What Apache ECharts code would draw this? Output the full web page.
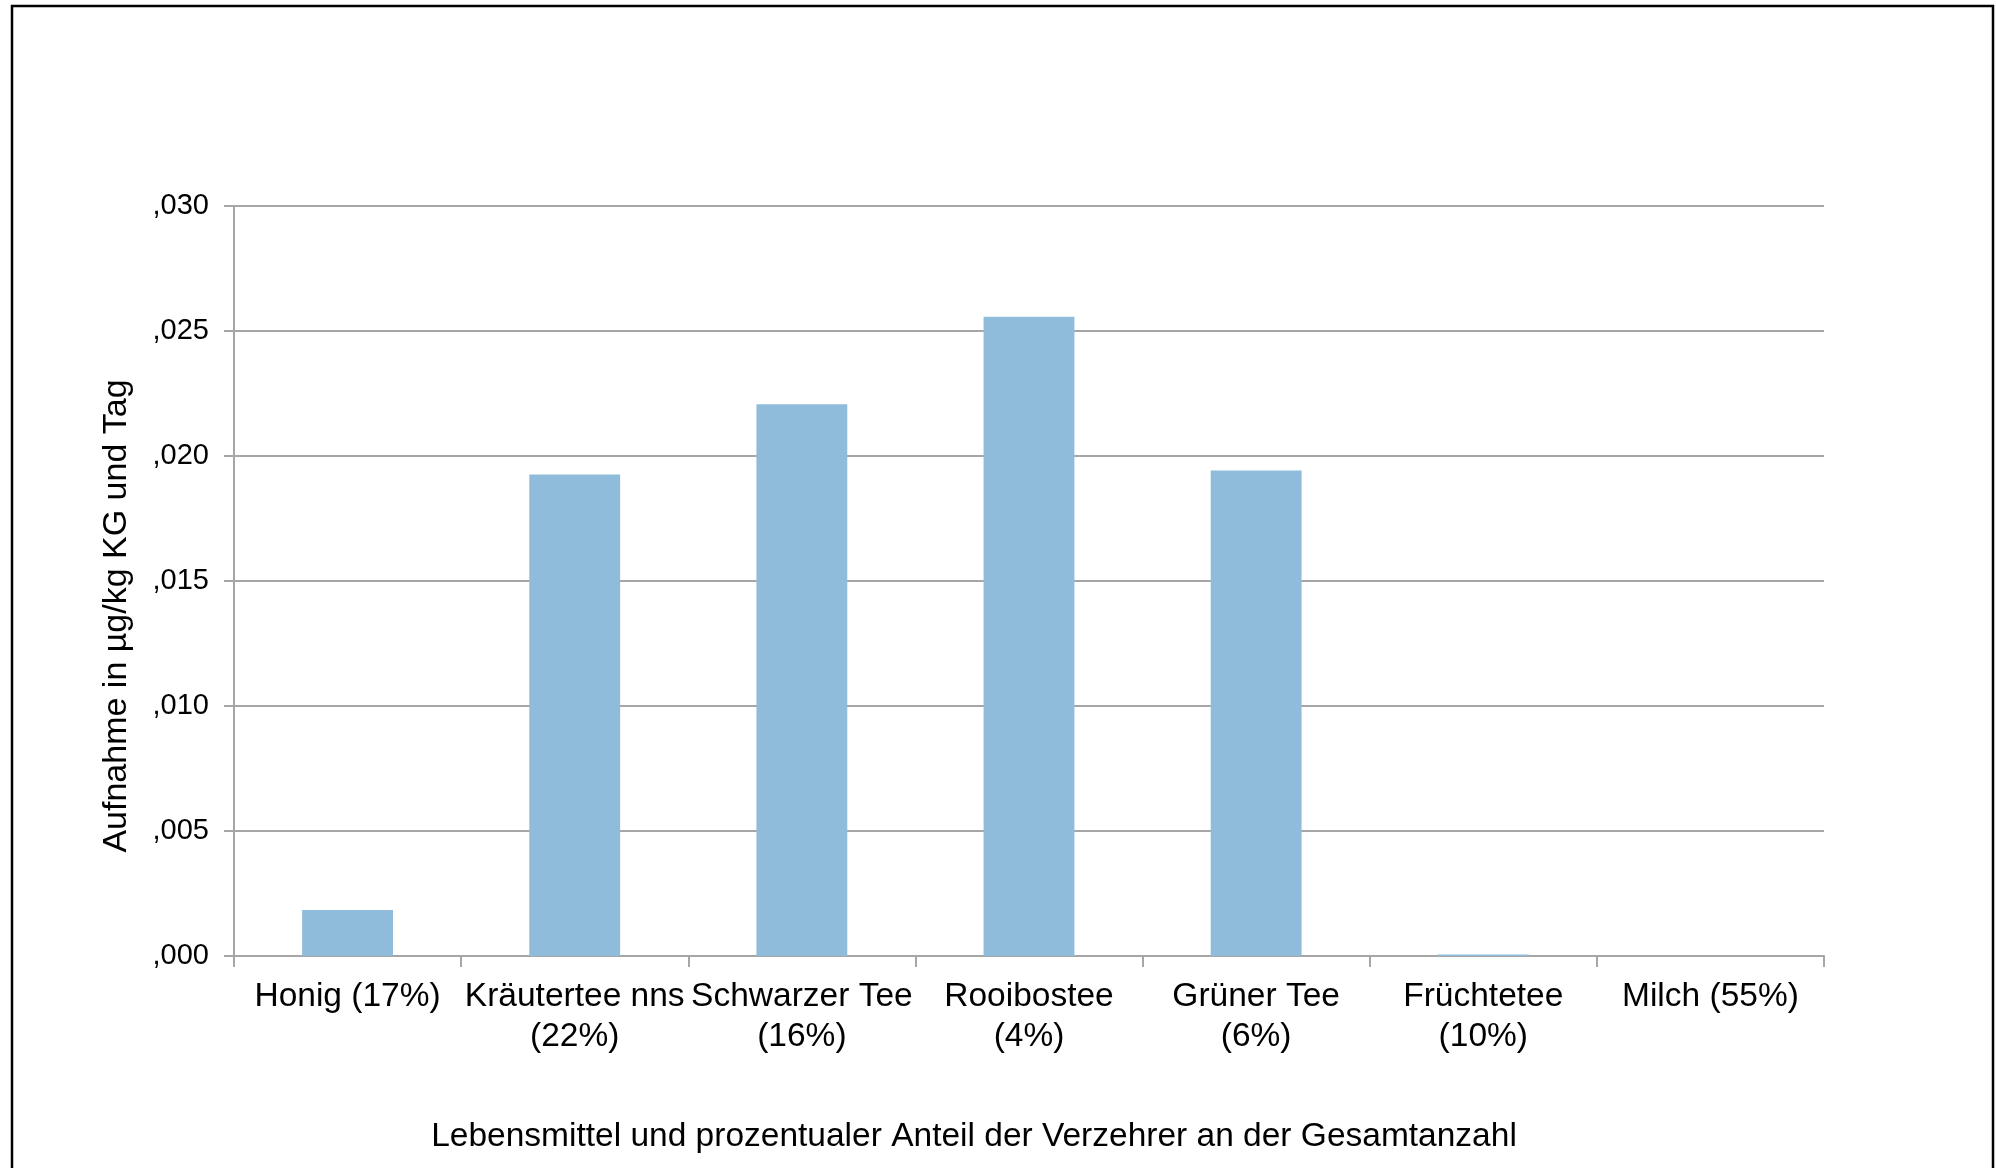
<!DOCTYPE html>
<html>
<head>
<meta charset="utf-8">
<script src="https://cdn.jsdelivr.net/npm/echarts@6/dist/echarts.min.js"></script>
<style>
  html, body { margin: 0; padding: 0; background: #ffffff; }
  #chart { width: 1996px; height: 1168px; }
</style>
</head>
<body>
<div id="chart"></div>
<script>
// ---- data ----
const categories = [
  'Honig (17%)',
  'Kräutertee nns\n(22%)',
  'Schwarzer Tee\n(16%)',
  'Rooibostee\n(4%)',
  'Grüner Tee\n(6%)',
  'Früchtetee\n(10%)',
  'Milch (55%)'
];
const intakeValues = [0.00184, 0.01926, 0.02207, 0.02557, 0.01942, 0.00006, 0];
const yTicks = { min: 0, max: 0.030, interval: 0.005 };
const yAxisTitle = 'Aufnahme in µg/kg KG und Tag';
const xAxisTitle = 'Lebensmittel und prozentualer Anteil der Verzehrer an der Gesamtanzahl';

const FONT = '"Liberation Sans", Arial, sans-serif';
const chart = echarts.init(document.getElementById('chart'), null, { renderer: 'canvas' });

chart.setOption({
  backgroundColor: '#ffffff',
  animation: false,
  graphic: [{
    type: 'rect',
    shape: { x: 12, y: 6, width: 1981, height: 1200 },
    style: { fill: 'none', stroke: '#000000', lineWidth: 2.5 },
    silent: true
  }],
  grid: { left: 234, right: 172, top: 206, bottom: 212, containLabel: false },
  xAxis: {
    type: 'category',
    data: categories,
    boundaryGap: true,
    name: xAxisTitle,
    nameLocation: 'middle',
    nameGap: 164,
    nameTextStyle: { color: '#000', fontFamily: FONT, fontSize: 33.5, lineHeight: 34, padding: [0, 110, 0, 0] },
    axisLine: { show: true, lineStyle: { color: '#A6A6A6', width: 2 } },
    axisTick: { show: true, alignWithLabel: false, length: 11, lineStyle: { color: '#A6A6A6', width: 2 } },
    axisLabel: { color: '#000', fontFamily: FONT, fontSize: 33.5, lineHeight: 40, margin: 21, interval: 0 },
    splitLine: { show: false }
  },
  yAxis: {
    type: 'value',
    min: yTicks.min,
    max: yTicks.max,
    interval: yTicks.interval,
    name: yAxisTitle,
    nameLocation: 'middle',
    nameGap: 98,
    nameRotate: 90,
    nameTextStyle: { color: '#000', fontFamily: FONT, fontSize: 34, lineHeight: 38, padding: [0, 70, 0, 0] },
    axisLine: { show: true, lineStyle: { color: '#A6A6A6', width: 2 } },
    axisTick: { show: true, length: 10, lineStyle: { color: '#A6A6A6', width: 2 } },
    axisLabel: {
      color: '#000', fontFamily: FONT, fontSize: 29, margin: 25,
      formatter: v => v.toFixed(3).slice(1).replace('.', ',')
    },
    splitLine: { show: true, lineStyle: { color: '#A6A6A6', width: 2 } }
  },
  series: [{
    type: 'bar',
    data: intakeValues,
    barWidth: '40%',
    itemStyle: { color: '#8EBCDA', borderWidth: 0 }
  }]
});
</script>
</body>
</html>
